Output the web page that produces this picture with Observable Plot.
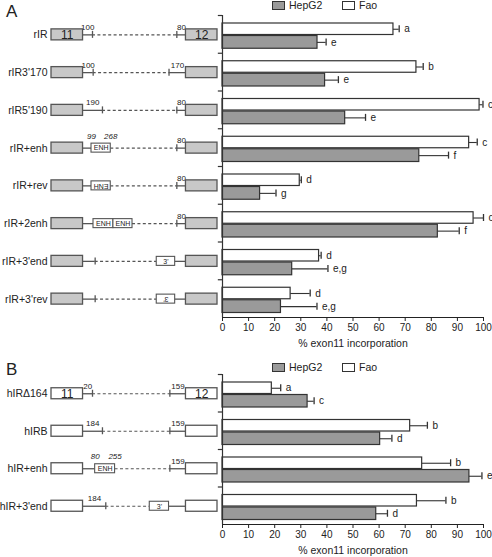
<!DOCTYPE html>
<html><head><meta charset="utf-8">
<script src="https://cdn.jsdelivr.net/npm/d3@7"></script>
<script src="https://cdn.jsdelivr.net/npm/@observablehq/plot@0.6"></script>
<style>
body{margin:0;background:#fff;font-family:"Liberation Sans",Arial,sans-serif;}
#wrap{position:relative;width:492px;height:557px;overflow:hidden;background:#fff;}
.abs{position:absolute;}
.plab{font-size:17px;color:#222;line-height:1;}
.leg{font-size:10.5px;color:#222;line-height:1;white-space:nowrap;}
.sw{position:absolute;width:11px;height:7px;border:1px solid #333;}
.atitle{font-size:10.5px;color:#222;line-height:1;text-align:center;width:262px;white-space:nowrap;}
</style></head>
<body><div id="wrap"></div>
<script>
// ---------- data ----------
const cellLines = ["HepG2", "Fao"];
const xTicks = [0, 10, 20, 30, 40, 50, 60, 70, 80, 90, 100];
const axisTitle = "% exon11 incorporation";

const constructsA = ["rIR", "rIR3'170", "rIR5'190", "rIR+enh", "rIR+rev", "rIR+2enh", "rIR+3'end", "rIR+3'rev"];
const faoA    = [65.5, 74.3, 98.5, 94.5, 29.6, 96.2, 37.0, 26.1];
const faoErrA = [2.2, 2.6, 1.3, 3.1, 0.6, 3.8, 0.8, 7.5];
const faoSigA = ["a", "b", "c", "c", "d", "c", "d", "d"];
const hepA    = [36.4, 39.3, 47.0, 75.4, 14.4, 82.5, 26.7, 22.4];
const hepErrA = [3.3, 5.1, 7.8, 11.2, 6.1, 8.2, 13.7, 13.8];
const hepSigA = ["e", "e", "e", "f", "g", "f", "e,g", "e,g"];

const constructsB = ["hIRΔ164", "hIRB", "hIR+enh", "hIR+3'end"];
const faoB    = [18.9, 71.9, 76.5, 74.5];
const faoErrB = [3.4, 6.6, 10.9, 11.1];
const faoSigB = ["a", "b", "b", "b"];
const hepB    = [32.6, 60.4, 94.6, 58.9];
const hepErrB = [2.5, 4.5, 4.8, 4.3];
const hepSigB = ["c", "d", "e", "d"];

// construct maps (schematic units: exon 11 | intron | exon 12)
const exonNames = ["11", "12"];
const exonSpan = [[0, 19], [81, 100]];
const mapA = [
  {lt: 24.7, ltLab: "100", rt: 75.5, rtLab: "80"},
  {lt: 25.1, ltLab: "100", rt: 70.8, rtLab: "170"},
  {lt: 30.7, ltLab: "190", rt: 75.5, rtLab: "80"},
  {ins: [{x1: 24.1, x2: 35.7, t: "ENH", l1: "99", l2: "268"}], rt: 75.5, rtLab: "80"},
  {ins: [{x1: 24.1, x2: 35.7, t: "ENH", rev: true}], rt: 75.5, rtLab: "80"},
  {ins: [{x1: 25.3, x2: 37.3, t: "ENH"}, {x1: 37.3, x2: 48.8, t: "ENH"}], rt: 75.5, rtLab: "80"},
  {lt: 26.3, end: {x1: 63.4, x2: 74.5, t: "3'"}},
  {lt: 26.3, end: {x1: 63.4, x2: 74.5, t: "3'", rev: true}}
];
const mapB = [
  {lt: 24.7, ltLab: "20", rt: 71.3, rtLab: "159"},
  {lt: 30.7, ltLab: "184", rt: 71.3, rtLab: "159"},
  {ins: [{x1: 26.3, x2: 38.3, t: "ENH", l1: "80", l2: "255"}], rt: 71.3, rtLab: "159"},
  {lt: 32.7, ltLab: "184", end: {x1: 59.2, x2: 70.8, t: "3'"}}
];

// ---------- drawing ----------
const FONT = '"Liberation Sans", Arial, sans-serif';
const INK = "#333";
const LINE = "#555";
const HEP_FILL = "#9a9a9a";
const wrap = document.getElementById("wrap");

function place(el, left, top) {
  el.classList.add("abs");
  el.style.left = left + "px";
  el.style.top = top + "px";
  wrap.appendChild(el);
}

function legend(top) {
  const d = document.createElement("div");
  d.style.width = "140px"; d.style.height = "12px";
  const items = [[cellLines[0], HEP_FILL, 0], [cellLines[1], "#fff", 70]];
  for (const [name, fill, off] of items) {
    const s = document.createElement("div");
    s.className = "sw"; s.style.left = off + "px"; s.style.top = "0px"; s.style.background = fill;
    d.appendChild(s);
    const t = document.createElement("div");
    t.className = "leg abs"; t.style.left = (off + 17) + "px"; t.style.top = "-1px";
    t.textContent = name;
    d.appendChild(t);
  }
  place(d, 272, top);
}

function panel(cfg) {
  const {names, fao, faoErr, faoSig, hep, hepErr, hepSig, map, exonFill, top, plotH, marginTop, marginBottom, letter, letterTop, legendTop, titleTop, showExonNums} = cfg;
  const n = names.length, bw = plotH / n, H = marginTop + plotH + marginBottom;
  const c = bw / 2 + 0.5; // schematic row centre from band top
  const yOpt = {domain: names, padding: 0, round: false, axis: null};

  // schematic pieces
  const solid = [], dashed = [], ticks = [], boxes = [], edgeLabs = [], exons = [];
  names.forEach((nm, i) => {
    const m = map[i], ins = m.ins || [];
    const leftStop = ins.length ? ins[0].x1 : m.lt;
    const dashStart = ins.length ? ins[ins.length - 1].x2 : m.lt;
    const dashEnd = m.end ? m.end.x1 : m.rt;
    const rightStart = m.end ? m.end.x2 : m.rt;
    solid.push({nm, x1: exonSpan[0][1], x2: leftStop, lab: m.ltLab || ""});
    solid.push({nm, x1: rightStart, x2: exonSpan[1][0], lab: m.rtLab || ""});
    dashed.push({nm, x1: dashStart, x2: dashEnd});
    if (m.lt != null) ticks.push({nm, x: m.lt});
    if (m.rt != null) ticks.push({nm, x: m.rt});
    for (const b of ins) {
      boxes.push({nm, ...b});
      if (b.l1) edgeLabs.push({nm, x: b.x1, t: b.l1}, {nm, x: b.x2, t: b.l2});
    }
    if (m.end) boxes.push({nm, ...m.end});
    exonSpan.forEach(([x1, x2], k) => exons.push({nm, x1, x2, t: (showExonNums && i === 0) ? exonNames[k] : ""}));
  });

  const schem = Plot.plot({
    width: 220, height: H, marginTop, marginBottom, marginLeft: 51, marginRight: 3,
    x: {domain: [0, 100], axis: null},
    y: yOpt,
    style: {background: "transparent", overflow: "visible", fontFamily: FONT, color: "#222"},
    marks: [
      Plot.ruleY(solid, {y: "nm", x1: "x1", x2: "x2", stroke: LINE, strokeWidth: 1.3, dy: 0.5}),
      Plot.ruleY(dashed, {y: "nm", x1: "x1", x2: "x2", stroke: LINE, strokeWidth: 1.1, strokeDasharray: "3,2.4", dy: 0.5}),
      Plot.tickX(ticks, {x: "x", y: "nm", stroke: LINE, strokeWidth: 1.3, insetTop: c - 3.5, insetBottom: bw - c - 3.5}),
      Plot.text(solid.filter(d => d.lab), {x: d => (d.x1 + d.x2) / 2, y: "nm", text: "lab", fontSize: 8, dy: 0.5 - 7.5, fill: "#222"}),
      Plot.barX(exons, {x1: "x1", x2: "x2", y: "nm", fill: exonFill, stroke: LINE, strokeWidth: 1.3, insetTop: c - 5.5, insetBottom: bw - c - 5.5}),
      Plot.text(exons.filter(d => d.t), {x: d => (d.x1 + d.x2) / 2, y: "nm", text: "t", fontSize: 12, dy: 1, fill: "#222"}),
      Plot.barX(boxes, {x1: "x1", x2: "x2", y: "nm", fill: "#fff", stroke: LINE, strokeWidth: 1.1, insetTop: c - 4.5, insetBottom: bw - c - 4.5}),
      Plot.text(boxes, {x: d => (d.x1 + d.x2) / 2, y: "nm", text: "t", rotate: d => d.rev ? 180 : 0, fontSize: 7, dy: 0.5, fill: "#222"}),
      Plot.text(edgeLabs, {x: "x", y: "nm", text: "t", fontSize: 8, fontStyle: "italic", dy: 0.5 - 12, fill: "#222"}),
      Plot.text(names, {x: () => exonSpan[0][0], y: d => d, text: d => d, textAnchor: "end", dx: -4, dy: 0.5, fontSize: 10.5, fill: "#222"})
    ]
  });
  place(schem, 0, top);

  // bars
  const faoRows = names.map((nm, i) => ({nm, v: fao[i], e: faoErr[i], s: faoSig[i]}));
  const hepRows = names.map((nm, i) => ({nm, v: hep[i], e: hepErr[i], s: hepSig[i]}));
  const fTop = 8, fH = 11.5, hBot = 4.5;
  const hTop = fTop + fH + 1;
  const fc = fTop + fH / 2, hc = (hTop + bw - hBot) / 2;
  const errMarks = (rows, cen) => [
    Plot.ruleY(rows, {y: "nm", x1: "v", x2: d => d.v + d.e, dy: cen - bw / 2, stroke: INK, strokeWidth: 1.1}),
    Plot.tickX(rows, {x: d => d.v + d.e, y: "nm", stroke: INK, strokeWidth: 1.3, insetTop: cen - 3.5, insetBottom: bw - cen - 3.5}),
  ];
  const bars = Plot.plot({
    width: 274, height: H, marginTop, marginBottom, marginLeft: 4, marginRight: 9,
    x: {domain: [0, 100], ticks: xTicks, tickSize: 4, tickPadding: 2, line: true, label: null},
    y: yOpt,
    style: {background: "transparent", overflow: "visible", fontFamily: FONT, fontSize: "10px", color: "#222"},
    marks: [
      ...errMarks(faoRows, fc),
      ...errMarks(hepRows, hc),
      Plot.barX(faoRows, {x: "v", y: "nm", fill: "#fff", stroke: INK, strokeWidth: 1.2, insetTop: fTop, insetBottom: bw - fTop - fH}),
      Plot.barX(hepRows, {x: "v", y: "nm", fill: HEP_FILL, stroke: INK, strokeWidth: 1.2, insetTop: hTop, insetBottom: hBot}),
      Plot.text(faoRows, {x: d => d.v + d.e, y: "nm", text: "s", textAnchor: "start", dx: 5, dy: fc - bw / 2, fontSize: 10, fill: "#222"}),
      Plot.text(hepRows, {x: d => d.v + d.e, y: "nm", text: "s", textAnchor: "start", dx: 5, dy: hc - bw / 2, fontSize: 10, fill: "#222"}),
      Plot.ruleX([0], {stroke: INK, strokeWidth: 1.2}),
      Plot.ruleY(names, {y: d => d, x1: -1.6, x2: 0, dy: -bw / 2, stroke: INK, strokeWidth: 1.2})
    ]
  });
  place(bars, 218, top);

  const T = document.createElement("div");
  T.className = "atitle"; T.textContent = axisTitle;
  place(T, 222, titleTop);

  const L = document.createElement("div");
  L.className = "plab"; L.textContent = letter;
  place(L, 6, letterTop);
  legend(legendTop);
}

panel({names: constructsA, fao: faoA, faoErr: faoErrA, faoSig: faoSigA, hep: hepA, hepErr: hepErrA, hepSig: hepSigA,
  map: mapA, exonFill: "#c8c8c8", top: 0, marginTop: 15, plotH: 302, marginBottom: 38,
  letter: "A", letterTop: 3, legendTop: 1, titleTop: 338, showExonNums: true});
panel({names: constructsB, fao: faoB, faoErr: faoErrB, faoSig: faoSigB, hep: hepB, hepErr: hepErrB, hepSig: hepSigB,
  map: mapB, exonFill: "#fff", top: 359, marginTop: 15, plotH: 150, marginBottom: 33,
  letter: "B", letterTop: 361, legendTop: 363, titleTop: 545, showExonNums: true});
</script>
</body></html>
